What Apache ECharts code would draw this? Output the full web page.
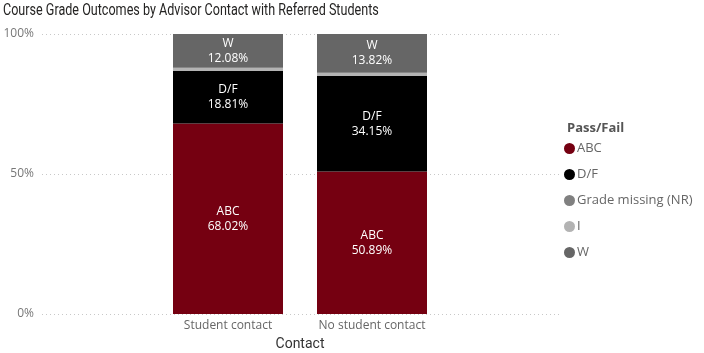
<!DOCTYPE html>
<html>
<head>
<meta charset="utf-8">
<script src="https://cdn.jsdelivr.net/npm/echarts@6/dist/echarts.min.js"></script>
<style>
  html, body { margin: 0; padding: 0; background: #fff; }
  #chart { width: 704px; height: 353px; }
</style>
</head>
<body>
<div id="chart"></div>
<script>
// categories and shares (%)
var categories = ['Student contact', 'No student contact'];
var abc = [68.02, 50.89];
var df = [18.81, 34.15];
var gradeMissing = [0, 0];
var incomplete = [1.09, 1.14];
var withdrawn = [12.08, 13.82];
var yTicks = [0, 50, 100];

var font = '"Open Sans", "Noto Sans", sans-serif';

var chart = echarts.init(document.getElementById('chart'));

// label inside the segment: name + value
var segLabel = function (show) {
  return {
    show: show,
    position: 'inside',
    color: '#fff',
    fontFamily: font,
    fontSize: 12,
    lineHeight: 15,
    formatter: function (p) {
      return p.seriesName + '\n' + p.value.toFixed(2) + '%';
    }
  };
};

var mkSeries = function (name, data, color, showLabel) {
  return {
    name: name,
    type: 'bar',
    stack: 'total',
    xAxisIndex: 0,
    yAxisIndex: 0,
    barWidth: 110,
    itemStyle: { color: color },
    label: segLabel(showLabel),
    emphasis: { disabled: true },
    data: data
  };
};

chart.setOption({
  animation: false,
  title: [
    {
      text: 'Pass/Fail',
      left: 562,
      top: 117,
      textStyle: { fontFamily: font, fontSize: 13, fontWeight: 'bold', color: '#555' }
    }
  ],
  // title drawn condensed, the original font is narrow
  graphic: [
    {
      type: 'text',
      left: 3,
      top: 2,
      scaleX: 0.74,
      style: {
        text: 'Course Grade Outcomes by Advisor Contact with Referred Students',
        font: '17px Roboto, sans-serif',
        fill: '#252423'
      }
    }
  ],
  legend: {
    orient: 'vertical',
    left: 559,
    top: 137,
    icon: 'circle',
    itemWidth: 11,
    itemHeight: 11,
    itemGap: 13,
    textStyle: { fontFamily: font, fontSize: 13, color: '#666', padding: [0, 0, 0, -3] },
    data: ['ABC', 'D/F', 'Grade missing (NR)', 'I', 'W']
  },
  grid: [
    { left: 156, right: 260, top: 34, bottom: 39, outerBoundsMode: 'none', containLabel: false },
    { left: 42, right: 144, top: 34, bottom: 39, outerBoundsMode: 'none', containLabel: false }
  ],
  xAxis: [
    {
      type: 'category',
      gridIndex: 0,
      data: categories,
      axisLine: { show: false },
      axisTick: { show: false },
      axisLabel: { color: '#666', fontFamily: font, fontSize: 12, margin: 6 },
      name: 'Contact',
      nameLocation: 'middle',
      nameGap: 23,
      nameTextStyle: { fontFamily: 'Roboto, sans-serif', fontSize: 14, color: '#333' }
    },
    { type: 'value', gridIndex: 1, show: false, min: 0, max: 1 }
  ],
  yAxis: [
    { type: 'value', gridIndex: 0, min: 0, max: 100, show: false },
    {
      type: 'value',
      gridIndex: 1,
      min: yTicks[0],
      max: yTicks[yTicks.length - 1],
      interval: 50,
      axisLine: { show: false },
      axisTick: { show: false },
      axisLabel: { color: '#777', fontFamily: font, fontSize: 12, margin: 8, formatter: '{value}%' },
      splitLine: { lineStyle: { color: '#c8c8c8', type: [1, 3], width: 1 } }
    }
  ],
  series: [
    mkSeries('ABC', abc, '#750011', true),
    mkSeries('D/F', df, '#000000', true),
    mkSeries('Grade missing (NR)', gradeMissing, '#808080', false),
    mkSeries('I', incomplete, '#b3b3b3', false),
    mkSeries('W', withdrawn, '#666666', true)
  ]
});
</script>
</body>
</html>
